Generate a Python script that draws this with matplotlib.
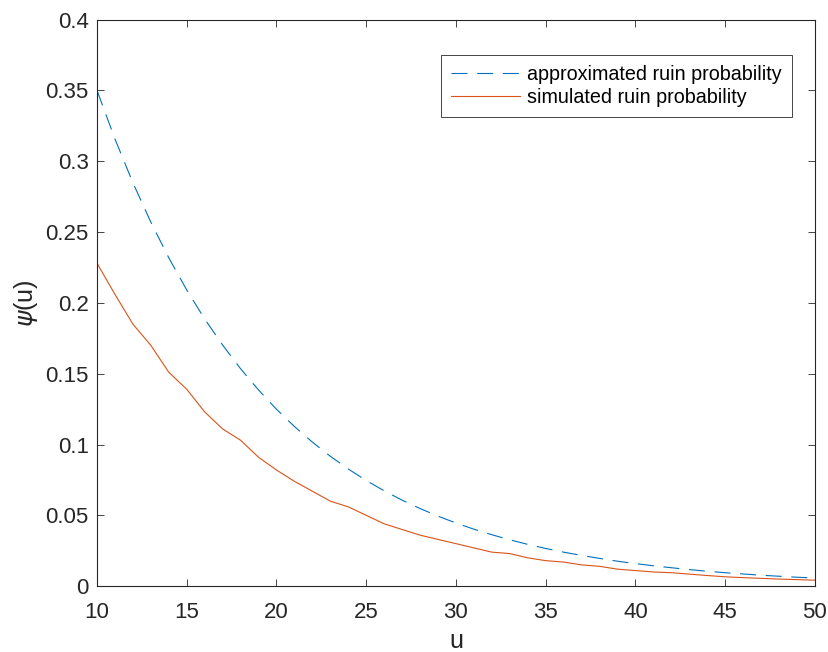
import numpy as np
import matplotlib.pyplot as plt

plt.rcParams['font.family'] = ['Liberation Sans', 'DejaVu Sans']
plt.rcParams['mathtext.fontset'] = 'dejavusans'

u = list(range(10, 51))

# approximated ruin probability
psi_approx = [0.350, 0.3157, 0.2848, 0.2570, 0.2318, 0.2091, 0.1886, 0.1702,
              0.1535, 0.1385, 0.1249, 0.1127, 0.1017, 0.0917, 0.0827, 0.0746,
              0.0673, 0.0607, 0.0548, 0.0494, 0.0446, 0.0402, 0.0363, 0.0327,
              0.0295, 0.0266, 0.0240, 0.0217, 0.0196, 0.0176, 0.0159, 0.0144,
              0.0130, 0.0117, 0.0105, 0.0095, 0.0086, 0.0077, 0.0070, 0.0063,
              0.0057]

# simulated ruin probability
psi_sim = [0.228, 0.206, 0.185, 0.170, 0.151, 0.139, 0.123, 0.111, 0.103,
           0.091, 0.082, 0.074, 0.067, 0.060, 0.056, 0.050, 0.044, 0.040,
           0.036, 0.033, 0.030, 0.027, 0.024, 0.023, 0.020, 0.018, 0.017,
           0.015, 0.014, 0.012, 0.011, 0.010, 0.0095, 0.0085, 0.0075, 0.0066,
           0.0060, 0.0055, 0.0050, 0.0046, 0.0042]

xticks = [10, 15, 20, 25, 30, 35, 40, 45, 50]
yticks = [0, 0.05, 0.1, 0.15, 0.2, 0.25, 0.3, 0.35, 0.4]
ytick_labels = ['0', '0.05', '0.1', '0.15', '0.2', '0.25', '0.3', '0.35', '0.4']

axis_col = '#262626'

fig = plt.figure(figsize=(8.29, 6.52), dpi=100)
ax = fig.add_axes([0.117, 0.101, 0.866, 0.869])

ax.plot(u, psi_approx, color='#0072BD', lw=0.8, dashes=(14.4, 8.7),
        label='approximated ruin probability')
ax.plot(u, psi_sim, color='#D95319', lw=0.8, label='simulated ruin probability')

ax.set_xlim(10, 50)
ax.set_ylim(0, 0.4)
ax.set_xticks(xticks)
ax.set_yticks(yticks)
ax.set_yticklabels(ytick_labels)
ax.tick_params(direction='in', top=True, right=True, length=5, width=0.6,
               colors=axis_col, labelsize=16)
ax.tick_params(axis='x', pad=11.5)
ax.tick_params(axis='y', pad=6)
for s in ax.spines.values():
    s.set_color(axis_col)
    s.set_linewidth(0.8)

ax.set_xlabel('u', fontsize=18, color=axis_col, labelpad=4)
ax.set_ylabel(r'$\psi$(u)', fontsize=18, color=axis_col, labelpad=4)

leg = ax.legend(loc='upper right', bbox_to_anchor=(0.968, 0.9375), fontsize=14.2,
                fancybox=False, framealpha=1, edgecolor=axis_col,
                handlelength=3.5, handletextpad=0.4, borderpad=0.5,
                labelspacing=0.2, borderaxespad=0)
leg.get_frame().set_linewidth(0.6)

fig.savefig('out.png', dpi=100)
